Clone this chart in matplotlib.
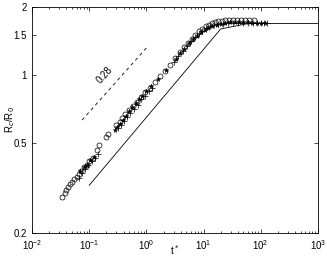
import matplotlib
matplotlib.use("Agg")
from matplotlib import pyplot as plt
from matplotlib.ticker import FixedLocator, FixedFormatter, NullLocator

plt.rcParams["font.family"] = ["Liberation Sans", "DejaVu Sans"]
plt.rcParams["font.size"] = 7

# circles
t_o = [0.034, 0.037, 0.040, 0.043, 0.047, 0.051, 0.055, 0.060, 0.066, 0.072, 0.080,
       0.090, 0.100, 0.115, 0.135, 0.150, 0.200, 0.215, 0.30, 0.34, 0.38, 0.43, 0.50,
       0.58, 0.68, 0.80, 0.95, 1.15, 1.40, 1.70, 2.1, 2.6, 3.2, 3.8, 4.5, 5.3, 6.2, 7.2,
       8.3, 9.5, 11, 12.5, 14, 16, 18, 21, 24, 28, 33, 39, 46, 54, 63, 75]
r_o = [0.29, 0.30, 0.31, 0.32, 0.33, 0.335, 0.345, 0.355, 0.365, 0.375, 0.39,
       0.40, 0.415, 0.43, 0.465, 0.49, 0.53, 0.55, 0.60, 0.62, 0.645, 0.67, 0.70,
       0.73, 0.76, 0.80, 0.84, 0.88, 0.93, 0.99, 1.04, 1.11, 1.19, 1.26, 1.33, 1.39, 1.45, 1.51,
       1.56, 1.60, 1.64, 1.67, 1.70, 1.72, 1.73, 1.74, 1.75, 1.76, 1.76, 1.76, 1.76, 1.76, 1.75, 1.75]

# plus
t_p = [0.065, 0.075, 0.085, 0.095, 0.11, 0.125, 0.14, 0.32, 0.36, 0.40, 0.45, 0.52, 0.6,
       0.7, 0.82, 0.95, 1.1, 1.25, 3.0, 3.6, 4.3, 5.1, 6.0, 7.0, 8.2, 9.5, 11, 13, 15, 18,
       22, 27, 33, 40, 50, 60, 72, 85, 100, 115, 130]
r_p = [0.35, 0.37, 0.385, 0.40, 0.415, 0.43, 0.445, 0.58, 0.60, 0.625, 0.65, 0.68, 0.71,
       0.74, 0.78, 0.81, 0.85, 0.88, 1.14, 1.21, 1.28, 1.35, 1.41, 1.47, 1.52, 1.57, 1.61, 1.64, 1.66, 1.68,
       1.69, 1.70, 1.70, 1.70, 1.70, 1.70, 1.70, 1.70, 1.70, 1.70, 1.70]

# asterisks
t_s = [0.07, 0.08, 0.09, 0.105, 0.12, 0.28, 0.31, 0.35, 0.39, 0.44, 0.5, 0.57, 0.65, 0.74,
       0.85, 1.0, 1.2, 1.6, 2.2, 3.3, 3.9, 4.6, 5.5, 6.5, 7.6, 9, 10.5, 12, 14, 17, 20, 24,
       29, 35, 42, 50, 60, 70, 85, 100, 120]
r_s = [0.375, 0.39, 0.40, 0.42, 0.435, 0.57, 0.59, 0.61, 0.635, 0.66, 0.69, 0.72, 0.75, 0.78,
       0.81, 0.85, 0.89, 0.96, 1.05, 1.18, 1.25, 1.31, 1.38, 1.44, 1.49, 1.55, 1.59, 1.62, 1.65, 1.67, 1.69, 1.70,
       1.71, 1.71, 1.71, 1.71, 1.71, 1.70, 1.70, 1.70, 1.70]

# model line and slope guide
t_line = [0.1, 20, 60, 1000]
r_line = [0.325, 1.60, 1.69, 1.69]
t_dash = [0.075, 1.0]
r_dash = [0.632, 1.318]

fig = plt.figure(figsize=(3.27, 2.6), dpi=100)
ax = fig.add_axes([0.098, 0.104, 0.874, 0.869])

ax.plot(t_line, r_line, "k-", lw=0.6)
ax.plot(t_dash, r_dash, "k--", lw=0.6, dashes=(4, 4))
ax.plot(t_o, r_o, "o", mfc="none", mec="k", ms=3.6, mew=0.5)
ax.plot(t_p, r_p, "+", color="k", ms=4, mew=0.5)
ax.plot(t_s, r_s, "*", color="k", ms=3.5, mew=0.3)

ax.set_xscale("log")
ax.set_yscale("log")
ax.set_xlim(1e-2, 1e3)
ax.set_ylim(0.2, 2)

yt = [0.2, 0.5, 1, 1.5, 2]
ax.yaxis.set_major_locator(FixedLocator(yt))
ax.yaxis.set_major_formatter(FixedFormatter(["0.2", "0.5", "1", "1.5", "2"]))
ax.yaxis.set_minor_locator(NullLocator())

ax.tick_params(which="both", direction="in", top=True, right=True, width=0.5)
ax.tick_params(which="major", length=3)
ax.tick_params(which="minor", length=1.5)
for s in ax.spines.values():
    s.set_linewidth(0.6)

ax.text(0.19, 1.0, "0.28", rotation=48, ha="center", va="center", fontsize=7)
ax.set_xlabel("t$^*$", va="center")
ax.set_ylabel("R$_c$/R$_0$", va="center")
ax.xaxis.set_label_coords(0.5, -0.075)
ax.yaxis.set_label_coords(-0.077, 0.5)

fig.savefig("out.png", dpi=100)
